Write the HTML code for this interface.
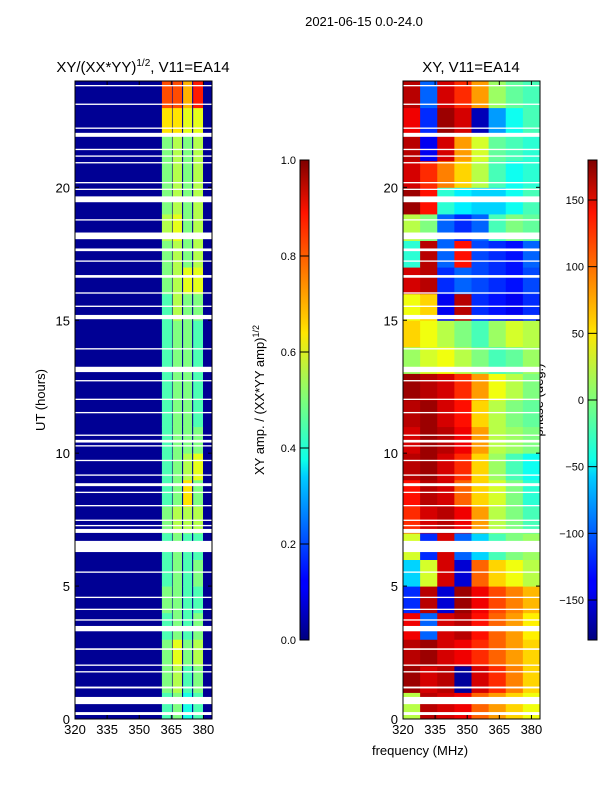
<!DOCTYPE html>
<html><head><meta charset="utf-8">
<style>
body{margin:0;background:#fff;}
svg text{font-family:"Liberation Sans",sans-serif;}
</style></head>
<body>
<svg id="fig" width="600" height="800" xmlns="http://www.w3.org/2000/svg">
<rect width="600" height="800" fill="#fff"/>
<text x="364" y="26" font-size="13" text-anchor="middle">2021-06-15 0.0-24.0</text>
<text x="143" y="72" font-size="15" text-anchor="middle">XY/(XX*YY)<tspan font-size="10" dy="-6">1/2</tspan><tspan dy="6">, V11=EA14</tspan></text>
<text x="471" y="72" font-size="15" text-anchor="middle">XY, V11=EA14</text>
<text transform="translate(45,400) rotate(-90)" font-size="13" text-anchor="middle">UT (hours)</text>
<text x="420" y="755" font-size="13" text-anchor="middle">frequency (MHz)</text>
<text transform="translate(264,400) rotate(-90)" font-size="13" text-anchor="middle">XY amp. / (XX*YY amp)<tspan font-size="9" dy="-5">1/2</tspan></text>
<text transform="translate(543,400) rotate(-90)" font-size="13" text-anchor="middle">phase (deg.)</text>
<defs>
<linearGradient id="jet" x1="0" y1="1" x2="0" y2="0">
<stop offset="0" stop-color="#00007f"/><stop offset="0.11" stop-color="#0000ff"/><stop offset="0.125" stop-color="#0000ff"/>
<stop offset="0.34" stop-color="#00ccff"/><stop offset="0.375" stop-color="#0dffe9"/><stop offset="0.5" stop-color="#7dff7a"/>
<stop offset="0.64" stop-color="#ffe600"/><stop offset="0.66" stop-color="#ffd200"/><stop offset="0.89" stop-color="#ff1300"/><stop offset="1" stop-color="#7f0000"/>
</linearGradient>
</defs>
<g id="left"></g>
<g id="right"></g>
<g id="cb1"></g>
<g id="cb2"></g>
</svg>
<script>
// data
const xTicks=[320,335,350,365,380];
const yTicks=[0,5,10,15,20];
const ampTicks=[0.0,0.2,0.4,0.6,0.8,1.0];
const phaseTicks=[-150,-100,-50,0,50,100,150];
const subBands=[[360.6,365.3],[365.6,370.0],[370.5,374.7],[375.2,379.8]];
const backgroundAmp=0.02;
// 24 hourly rows (hour 0..23) x 4 sub-bands
const ampRows=[
[0.45,0.5,0.4,0.45],[0.5,0.55,0.45,0.5],[0.5,0.6,0.5,0.55],[0.45,0.5,0.45,0.5],[0.5,0.5,0.45,0.45],
[0.45,0.5,0.45,0.5],[0.45,0.5,0.45,0.45],[0.5,0.55,0.55,0.55],[0.45,0.5,0.65,0.5],[0.45,0.5,0.55,0.6],
[0.45,0.5,0.5,0.5],[0.45,0.5,0.5,0.45],[0.45,0.5,0.5,0.45],[0.45,0.5,0.5,0.45],[0.45,0.5,0.5,0.45],
[0.45,0.55,0.5,0.5],[0.5,0.55,0.6,0.6],[0.5,0.55,0.5,0.55],[0.55,0.6,0.5,0.55],[0.5,0.55,0.5,0.55],
[0.5,0.55,0.5,0.55],[0.5,0.55,0.5,0.55],[0.65,0.65,0.6,0.6],[0.8,0.8,0.7,0.85]];
const phaseFreqs=[320,328,336,344,352,360,368,376,384];
// 24 hourly rows (hour 0..23) x 8 freq columns, degrees
const phaseRows=[
[20,160,150,140,100,80,60,40],[170,150,160,-170,150,120,90,60],[160,170,150,140,120,100,80,60],[140,-100,150,160,130,100,80,50],
[-120,160,-150,170,140,110,90,70],[-60,30,150,-150,100,60,40,20],[30,-120,150,-100,-60,-20,0,10],[120,150,160,140,80,20,0,-20],
[130,160,150,100,60,30,0,-30],[160,170,150,120,60,10,-20,-40],[150,170,160,140,80,20,10,0],[160,170,150,130,60,20,0,-10],
[170,160,150,120,80,40,20,0],[10,30,40,20,0,-20,-10,10],[60,40,20,0,-20,10,30,20],[40,60,-140,160,-120,-130,-140,-120],
[150,160,-120,-100,-110,-120,-130,-110],[-30,160,-100,130,-110,-120,-130,-100],[20,0,-100,-120,-100,-20,0,-10],[170,130,-30,-50,-60,-60,-40,-20],
[150,120,90,60,20,-20,-40,-30],[160,-140,150,80,30,-10,-20,-30],[140,-120,170,150,-160,-80,-40,-20],[160,-100,150,120,80,10,-10,-20]];
// white (flagged) hour ranges
const gaps=[[0.15,0.26],[0.56,0.83],[1.15,1.22],[1.75,1.8],[2.0,2.05],[2.6,2.66],[3.3,3.5],[3.7,3.75],[4.1,4.15],[4.55,4.6],
[5.5,5.55],[6.28,6.7],[7.0,7.15],[7.25,7.3],[7.45,7.5],[8.0,8.05],[8.5,8.55],[8.76,8.87],[9.15,9.2],[9.7,9.75],
[10.25,10.3],[10.4,10.5],[10.65,10.7],[11.5,11.55],[12.0,12.05],[12.7,12.75],[13.05,13.25],[13.9,13.95],[15.04,15.2],[15.5,15.55],
[16.0,16.05],[16.6,16.7],[17.2,17.25],[17.6,17.7],[18.05,18.3],[18.75,18.8],[19.44,19.66],[19.9,19.95],[20.15,20.2],[20.9,20.95],
[21.15,21.2],[21.4,21.45],[21.9,22.05],[22.2,22.25],[23.1,23.15],[23.8,23.85]];

const NS="http://www.w3.org/2000/svg";
function mk(tag,attrs,parent){const e=document.createElementNS(NS,tag);for(const k in attrs)e.setAttribute(k,attrs[k]);parent.appendChild(e);return e;}
function jet(v){v=Math.max(0,Math.min(1,v));
 const r=Math.max(0,Math.min(1,1.5-Math.abs(4*v-3))),g=Math.max(0,Math.min(1,1.5-Math.abs(4*v-2))),b=Math.max(0,Math.min(1,1.5-Math.abs(4*v-1)));
 return `rgb(${Math.round(r*255)},${Math.round(g*255)},${Math.round(b*255)})`;}
const yTop=81,yBot=719,hMax=24;
const yS=h=>yBot-(h/hMax)*(yBot-yTop);
function panel(gid,x0,x1){
 const g=document.getElementById(gid);
 const xS=f=>x0+(f-320)/64*(x1-x0);
 return {g,xS};
}
function axes(g,xS,x0,x1){
 gaps.forEach(([a,b])=>{const r=mk('rect',{x:x0,y:yS(b),width:x1-x0,height:Math.max(1.2,yS(a)-yS(b)),fill:'#fff'},g);
  
  });
 const f=mk('rect',{x:x0,y:yTop,width:x1-x0,height:yBot-yTop,fill:'none',stroke:'#000','stroke-width':1},g);
 
 
 xTicks.forEach(t=>{const x=xS(t);
  mk('line',{x1:x,y1:yBot,x2:x,y2:yBot-4,stroke:'#000'},g);mk('line',{x1:x,y1:yTop,x2:x,y2:yTop+4,stroke:'#000'},g);
  const tx=mk('text',{x:x,y:yBot+15,'font-size':13,'text-anchor':'middle'},g);tx.textContent=t;
  
  });
 yTicks.forEach(t=>{const y=yS(t);
  mk('line',{x1:x0,y1:y,x2:x0+4,y2:y,stroke:'#000'},g);mk('line',{x1:x1,y1:y,x2:x1-4,y2:y,stroke:'#000'},g);
  const tx=mk('text',{x:x0-5,y:y+5,'font-size':13,'text-anchor':'end'},g);tx.textContent=t;
  
  });
}
// left panel
(function(){
 const {g,xS}=panel('left',75,212);
 const bg=mk('rect',{x:75,y:yTop,width:137,height:yBot-yTop,fill:jet(backgroundAmp)},g);
 
 
 ampRows.forEach((row,i)=>{row.forEach((v,j)=>{
  const c=mk('rect',{x:xS(subBands[j][0]),y:yS(i+1),width:xS(subBands[j][1])-xS(subBands[j][0]),height:yS(i)-yS(i+1)+0.5,fill:jet(v)},g);
  
  
 });});
 axes(g,xS,75,212);
})();
// right panel
(function(){
 const {g,xS}=panel('right',403,540);
 phaseRows.forEach((row,i)=>{row.forEach((v,j)=>{
  const c=mk('rect',{x:xS(phaseFreqs[j]),y:yS(i+1),width:xS(phaseFreqs[j+1])-xS(phaseFreqs[j])+0.5,height:yS(i)-yS(i+1)+0.5,fill:jet((v+180)/360)},g);
  
  
 });});
 axes(g,xS,403,540);
})();
function colorbar(gid,x,vmin,vmax,ticks,fmt){
 const g=document.getElementById(gid);const y0=160,y1=640;
 mk('rect',{x:x,y:y0,width:9,height:y1-y0,fill:'url(#jet)',stroke:'#000','stroke-width':1},g);
 ticks.forEach(t=>{const y=y1-(t-vmin)/(vmax-vmin)*(y1-y0);
  mk('line',{x1:x,y1:y,x2:x+9,y2:y,stroke:'#000'},g);
  const tx=mk('text',{x:x-4,y:y+4,'font-size':11,'text-anchor':'end'},g);tx.textContent=fmt(t);
  
  });
}
colorbar('cb1',300,0,1,ampTicks,t=>t.toFixed(1));
colorbar('cb2',588,-180,180,phaseTicks,t=>t<0?'\u2212'+(-t):''+t);
</script>
</body></html>
